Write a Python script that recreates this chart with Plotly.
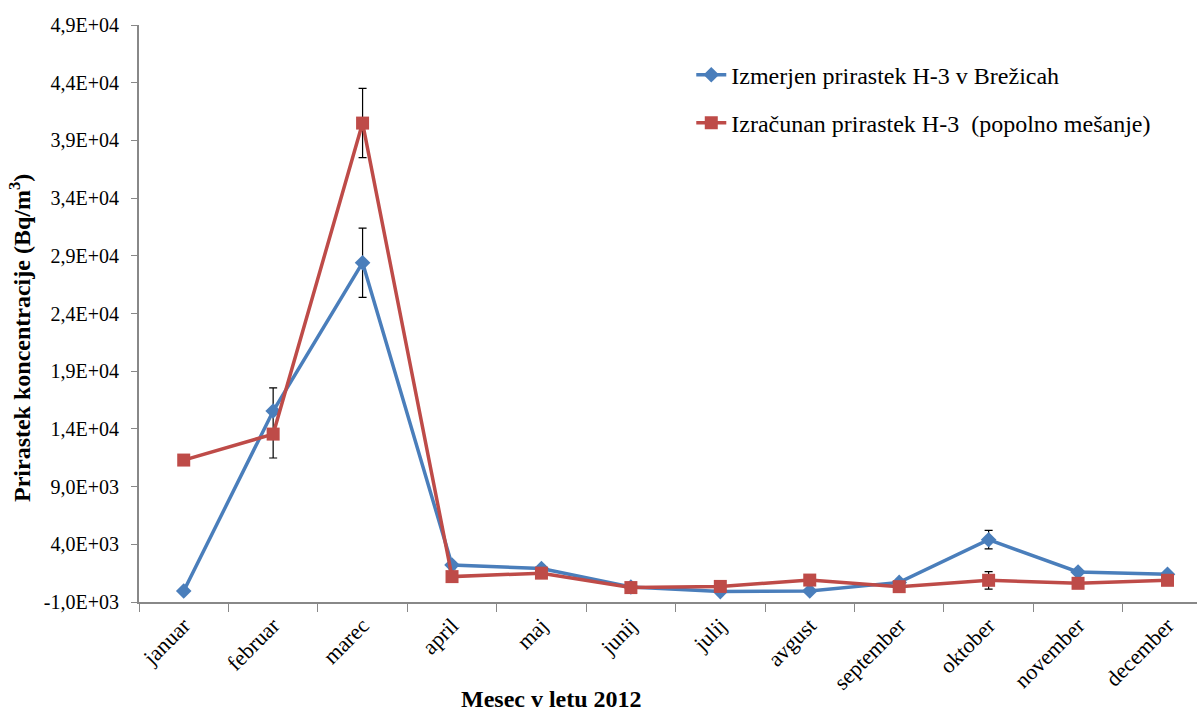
import plotly.graph_objects as go

months = ["januar", "februar", "marec", "april", "maj", "junij", "julij",
          "avgust", "september", "oktober", "november", "december"]

measured = [-50, 15550, 28400, 2200, 1900, 300, -100, -50, 700, 4400, 1600, 1400]
measured_err_plus = [0, 2000, 3000, 300, 250, 0, 0, 0, 0, 800, 0, 0]
measured_err_minus = [0, 4070, 3000, 300, 250, 0, 0, 0, 0, 800, 0, 0]

calculated = [11300, 13550, 40500, 1200, 1500, 250, 350, 900, 330, 880, 620, 880]
calculated_err = [0, 0, 3000, 0, 0, 0, 0, 0, 0, 760, 0, 0]

name_measured = "Izmerjen prirastek H-3 v Brežicah"
name_calculated = "Izračunan prirastek H-3  (popolno mešanje)"
x_title = "<b>Mesec v letu 2012</b>"
y_title = "<b>Prirastek koncentracije (Bq/m<sup>3</sup>)</b>"

y_ticks = [-1000 + 5000 * i for i in range(11)]
y_ticktext = [f"{v:.1E}".replace(".", ",") for v in y_ticks]

FONT = "Liberation Serif, Times New Roman, serif"
BLUE = "#4A7EBB"
RED = "#BE4B48"

fig = go.Figure()
fig.add_trace(go.Scatter(
    x=months, y=measured, name=name_measured, mode="lines+markers",
    line=dict(color=BLUE, width=3.5),
    marker=dict(symbol="diamond", size=12, color=BLUE),
    error_y=dict(type="data", array=measured_err_plus, arrayminus=measured_err_minus,
                 symmetric=False, color="black", thickness=1.2, width=4),
    legend="legend", showlegend=True,
))
fig.add_trace(go.Scatter(
    x=months, y=calculated, name=name_calculated, mode="lines+markers",
    line=dict(color=RED, width=3.5),
    marker=dict(symbol="square", size=13, color=RED),
    error_y=dict(type="data", array=calculated_err, color="black", thickness=1.2, width=4),
    legend="legend2", showlegend=True,
))

fig.update_layout(
    width=1197, height=716,
    margin=dict(l=139, r=0, t=25, b=114),
    paper_bgcolor="white", plot_bgcolor="white",
    showlegend=True,
    font=dict(family=FONT, size=20, color="black"),
    legend=dict(x=0.522, y=0.913, xanchor="left", yanchor="middle", visible=True,
                font=dict(family=FONT, size=24), bgcolor="rgba(0,0,0,0)"),
    legend2=dict(x=0.522, y=0.830, xanchor="left", yanchor="middle", visible=True,
                 font=dict(family=FONT, size=24), bgcolor="rgba(0,0,0,0)"),
    xaxis=dict(
        type="category", tickangle=-45, tickson="boundaries",
        range=[-0.5, 11.33],
        ticks="outside", ticklen=8, tickcolor="#888888",
        showline=True, linecolor="#888888", linewidth=2,
        showgrid=False, zeroline=False, automargin=False,
        tickfont=dict(family=FONT, size=22),
    ),
    yaxis=dict(
        range=[-1000, 49000], tickvals=y_ticks, ticktext=y_ticktext,
        ticks="outside", ticklen=6, tickcolor="#888888",
        ticklabelstandoff=8,
        showline=True, linecolor="#888888", linewidth=2,
        showgrid=False, zeroline=False, automargin=False,
        tickfont=dict(family=FONT, size=20),
    ),
    annotations=[
        dict(text=x_title, xref="paper", yref="paper", x=0.39, y=-0.192,
             xanchor="center", yanchor="bottom", showarrow=False, borderpad=0,
             font=dict(family=FONT, size=24)),
        dict(text=y_title, xref="paper", yref="paper", x=-0.1125, y=0.4575,
             xanchor="center", yanchor="middle", textangle=-90, showarrow=False,
             font=dict(family=FONT, size=24)),
    ],
)

fig.write_html("out.html")
